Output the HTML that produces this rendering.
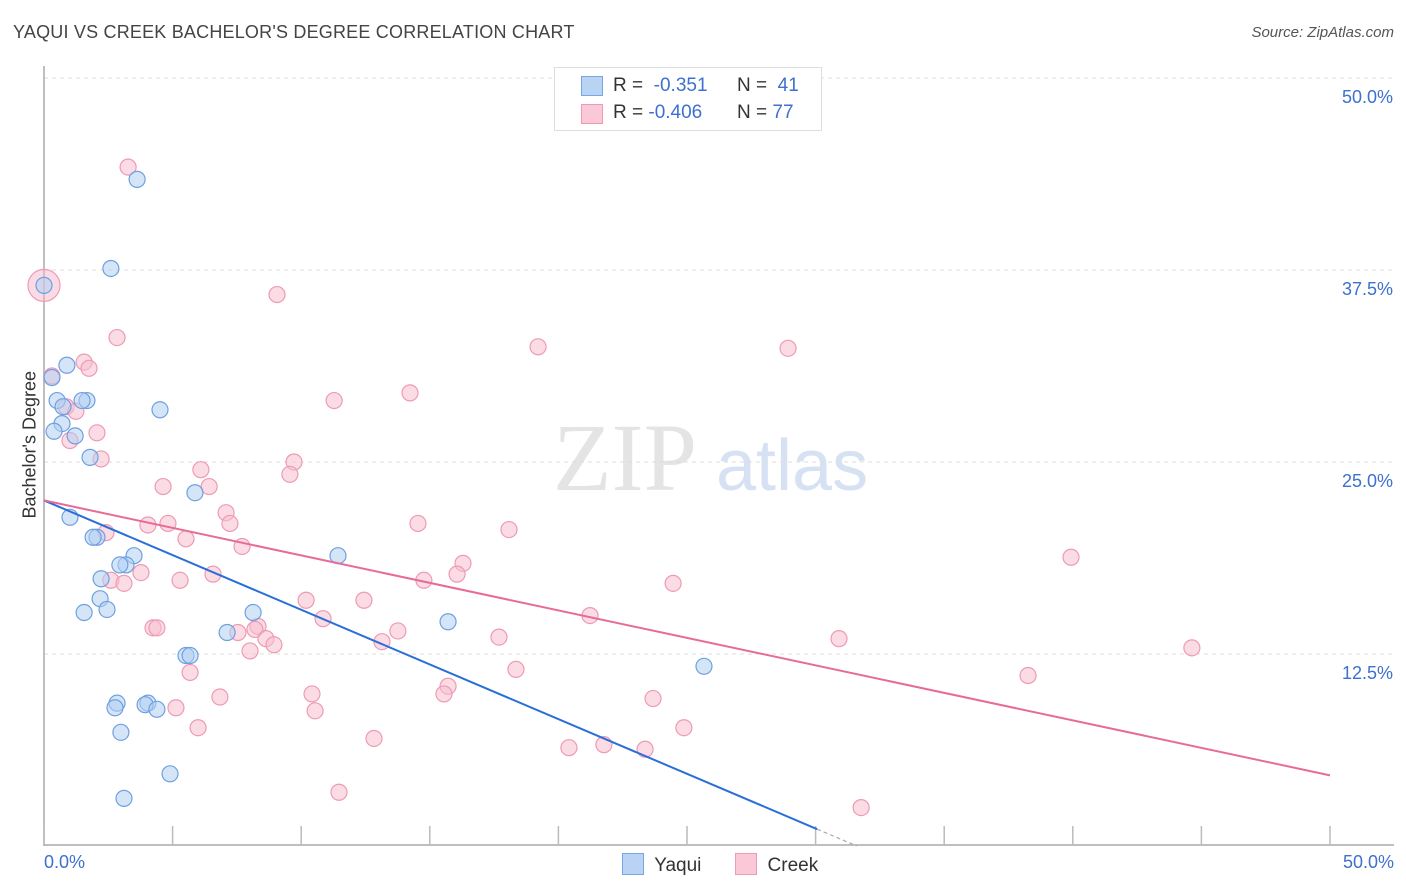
<!DOCTYPE html>
<html><head><meta charset="utf-8"><style>
body{margin:0;background:#fff;font-family:"Liberation Sans",sans-serif;}
#wrap{position:relative;width:1406px;height:892px;overflow:hidden;}
.t{position:absolute;white-space:nowrap;}
</style></head><body>
<div id="wrap">
<div class="t" style="left:13px;top:22px;font-size:18px;color:#444;letter-spacing:0.2px">YAQUI VS CREEK BACHELOR'S DEGREE CORRELATION CHART</div>
<div class="t" style="right:12px;top:24px;font-size:15px;color:#555;font-style:italic">Source: ZipAtlas.com</div>
<svg id="svg" width="1406" height="892" style="position:absolute;left:0;top:0"></svg>
</div>
<script>
const xTicks=[0,5,10,15,20,25,30,35,40,45,50];
const yTicks=[12.5,25,37.5,50];
const yTickLabels=["12.5%","25.0%","37.5%","50.0%"];
const yaquiX=[3.62,2.60,0,0.89,0.31,0.51,1.67,1.48,0.74,4.51,0.70,0.39,1.21,1.79,5.87,1.01,2.06,1.91,3.50,11.43,3.19,2.95,2.22,2.18,2.45,1.56,15.71,7.12,8.13,5.52,5.68,25.66,2.84,2.76,4.04,3.93,4.39,2.99,4.90,3.11];
const yaquiY=[43.4,37.6,36.5,31.3,30.5,29.0,29.0,29.0,28.6,28.4,27.5,27.0,26.7,25.3,23.0,21.4,20.1,20.1,18.9,18.9,18.3,18.3,17.4,16.1,15.4,15.2,14.6,13.9,15.2,12.4,12.4,11.7,9.3,9.0,9.3,9.2,8.9,7.4,4.7,3.1];
const creekX=[3.27,9.06,2.84,19.21,28.93,1.56,1.75,0.31,14.23,11.28,0.86,1.24,1.01,2.06,2.22,9.72,6.10,9.56,4.63,6.42,7.08,7.23,4.04,4.82,14.54,18.08,2.41,5.52,7.70,16.29,39.93,3.77,6.57,16.06,14.77,2.60,3.11,5.29,24.46,10.19,12.44,10.85,21.23,4.24,4.39,7.54,8.32,8.20,13.76,8.63,8.94,13.14,17.69,30.91,8.01,44.63,5.68,18.35,38.26,15.71,15.55,6.84,10.42,23.68,5.13,10.54,5.99,24.88,12.83,20.41,21.77,23.37,11.47,31.77];
const creekY=[44.2,35.9,33.1,32.5,32.4,31.5,31.1,30.6,29.5,29.0,28.6,28.3,26.4,26.9,25.2,25.0,24.5,24.2,23.4,23.4,21.7,21.0,20.9,21.0,21.0,20.6,20.4,20.0,19.5,18.4,18.8,17.8,17.7,17.7,17.3,17.3,17.1,17.3,17.1,16.0,16.0,14.8,15.0,14.2,14.2,13.9,14.3,14.1,14.0,13.5,13.1,13.3,13.6,13.5,12.7,12.9,11.3,11.5,11.1,10.4,9.9,9.7,9.9,9.6,9.0,8.8,7.7,7.7,7.0,6.4,6.6,6.3,3.5,2.5];
const yaquiTrend=[22.5,-0.712];
const creekTrend=[22.5,-0.358];
const X0=44,X1=1330,Y0=846,Y50=78;
const sx=v=>X0+(X1-X0)*v/50;
const sy=v=>Y0-(Y0-Y50)*v/50;
const svg=document.getElementById('svg');
const NS='http://www.w3.org/2000/svg';
function mk(tag,attrs){const e=document.createElementNS(NS,tag);for(const k in attrs)e.setAttribute(k,attrs[k]);svg.appendChild(e);return e;}
// watermark
let wm=mk('text',{x:553,y:490,'font-size':96,'font-family':'Liberation Serif,serif',fill:'#e4e4e4'});wm.textContent='ZIP';


let wm2=mk('text',{x:716,y:490,'font-size':72,'font-family':'Liberation Sans,sans-serif',fill:'#d6e2f4'});wm2.textContent='atlas';


yTicks.forEach((t,i)=>{
 const g=mk('line',{x1:44,x2:1394,y1:sy(t),y2:sy(t),stroke:'#ddd','stroke-dasharray':'4,4'});
 
 
 const l=mk('text',{x:1393,y:sy(t)+25,'text-anchor':'end','font-size':18,fill:'#3d70cf','font-family':'Liberation Sans,sans-serif'});
 l.textContent=yTickLabels[i];
 
 
});
let ax=mk('line',{x1:44,x2:44,y1:66,y2:846,stroke:'#aaa','stroke-width':1.5});


let axx=mk('line',{x1:44,x2:1394,y1:845,y2:845,stroke:'#aaa','stroke-width':1.5});


xTicks.forEach(t=>{const e=mk('line',{x1:sx(t),x2:sx(t),y1:826,y2:845,stroke:'#bbb','stroke-width':1.5});
 
 });
function pts(xs,ys,fill,stroke,name){xs.forEach((x,i)=>{const c=mk('circle',{cx:sx(x),cy:sy(ys[i]),r:8,fill:fill,'fill-opacity':0.55,stroke:stroke,'stroke-width':1.2});
 
 });}
let big=mk('circle',{cx:sx(0),cy:sy(36.5),r:16,fill:'#f6b8cb','fill-opacity':0.5,stroke:'#ee9ab5','stroke-width':1.2});


pts(creekX,creekY,'#f8bfd0','#ee9ab5','creek-point');
pts(yaquiX,yaquiY,'#b3cff2','#6fa0e0','yaqui-point');
const be=30.06;
let bl=mk('line',{x1:sx(0),y1:sy(yaquiTrend[0]),x2:sx(be),y2:sy(yaquiTrend[0]+yaquiTrend[1]*be),stroke:'#2a6fd8','stroke-width':2});


let bd=mk('line',{x1:sx(be),y1:sy(yaquiTrend[0]+yaquiTrend[1]*be),x2:sx(31.6),y2:sy(yaquiTrend[0]+yaquiTrend[1]*31.6),stroke:'#aaa','stroke-width':1.2,'stroke-dasharray':'4,3'});


let pl=mk('line',{x1:sx(0),y1:sy(creekTrend[0]),x2:sx(50),y2:sy(creekTrend[0]+creekTrend[1]*50),stroke:'#e86b97','stroke-width':2});


</script>
<div class="t" style="left:-34px;top:444px;font-size:18px;color:#333;transform:rotate(-90deg);transform-origin:center;width:128px;text-align:center">Bachelor's Degree</div>
<div class="t" style="left:44px;top:852px;font-size:18px;color:#3d70cf">0.0%</div>
<div class="t" style="right:12px;top:852px;font-size:18px;color:#3d70cf">50.0%</div>
<div style="position:absolute;left:554px;top:67px;width:266px;height:62px;border:1px solid #ddd;background:#fff;font-size:19px;color:#333">
 <div style="position:absolute;left:26px;top:8px;width:20px;height:18px;background:#b9d3f5;border:1px solid #7aa7e4"></div>
 <div class="t" style="left:58px;top:7px">R = &nbsp;<span style="color:#3d70cf">-0.351</span></div>
 <div class="t" style="left:182px;top:7px">N = &nbsp;<span style="color:#3d70cf">41</span></div>
 <div style="position:absolute;left:26px;top:36px;width:20px;height:18px;background:#fbc8d7;border:1px solid #ee9ab5"></div>
 <div class="t" style="left:58px;top:34px">R = <span style="color:#3d70cf">-0.406</span></div>
 <div class="t" style="left:182px;top:34px">N = <span style="color:#3d70cf">77</span></div>
</div>
<div style="position:absolute;left:622px;top:853px;font-size:19px;color:#333">
 <span style="display:inline-block;width:20px;height:20px;background:#b9d3f5;border:1px solid #7aa7e4;vertical-align:-4px"></span>&nbsp; Yaqui</div>
<div style="position:absolute;left:735px;top:853px;font-size:19px;color:#333">
 <span style="display:inline-block;width:20px;height:20px;background:#fbc8d7;border:1px solid #ee9ab5;vertical-align:-4px"></span>&nbsp; Creek</div>
</body></html>
